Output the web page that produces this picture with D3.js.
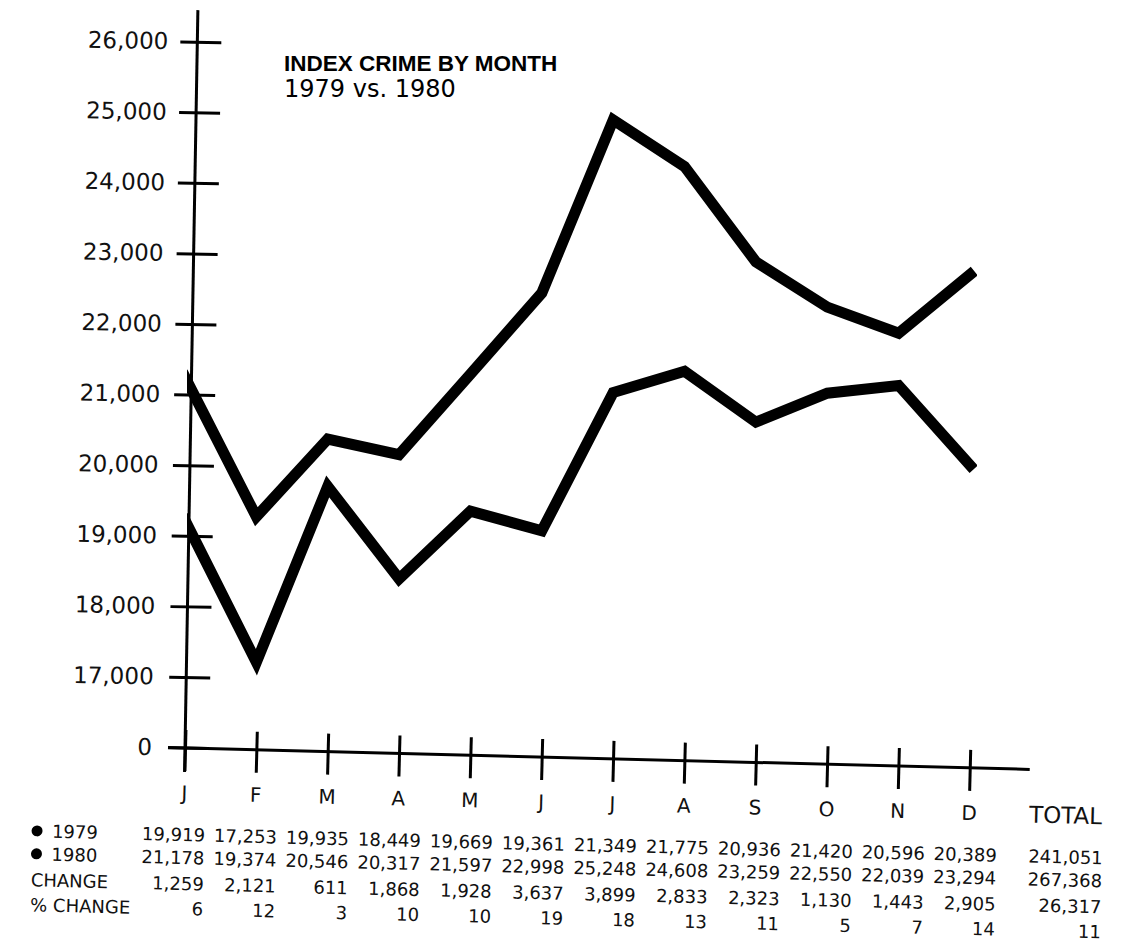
<!DOCTYPE html>
<html>
<head>
<meta charset="utf-8">
<script src="https://cdn.jsdelivr.net/npm/d3@7"></script>
<style>
body { margin: 0; background: #fff; }
svg { display: block; }
.tbl text { font-family: "DejaVu Sans", sans-serif; font-size: 18px; fill: #111; }
</style>
</head>
<body>
<script>
// months on the x axis
var months = ["J", "F", "M", "A", "M", "J", "J", "A", "S", "O", "N", "D"];

// values as plotted
var line1980 = [21250, 19270, 20370, 20150, 21290, 22440, 24890, 24230, 22880, 22240, 21870, 22700];
var line1979 = [19220, 17210, 19700, 18390, 19350, 19070, 21030, 21330, 20610, 21020, 21130, 20000];

// y axis (broken: the bottom tick is labelled 0)
var yTicks = [16000, 17000, 18000, 19000, 20000, 21000, 22000, 23000, 24000, 25000, 26000];
var yLabels = ["0", "17,000", "18,000", "19,000", "20,000", "21,000", "22,000", "23,000", "24,000", "25,000", "26,000"];

// table under the chart
var rowNames = ["1979", "1980", "CHANGE", "% CHANGE"];
var v1979 = [19919, 17253, 19935, 18449, 19669, 19361, 21349, 21775, 20936, 21420, 20596, 20389];
var v1980 = [21178, 19374, 20546, 20317, 21597, 22998, 25248, 24608, 23259, 22550, 22039, 23294];
var change = [1259, 2121, 611, 1868, 1928, 3637, 3899, 2833, 2323, 1130, 1443, 2905];
var pctChange = [6, 12, 3, 10, 10, 19, 18, 13, 11, 5, 7, 14];
var totals = [241051, 267368, 26317, 11];

var width = 1123, height = 942;
var svg = d3.select("body").append("svg")
    .attr("width", width)
    .attr("height", height);

var x = d3.scalePoint()
    .domain(d3.range(12))
    .range([185, 970]);
var y = d3.scaleLinear()
    .domain([16000, 26000])
    .range([747.6, 41.6]);

// title
svg.append("text")
    .attr("x", 284).attr("y", 71)
    .style("font-family", "'Liberation Sans', Arial, sans-serif")
    .style("font-weight", "bold")
    .style("font-size", "22.5px")
    .text("INDEX CRIME BY MONTH");
svg.append("text")
    .attr("x", 284).attr("y", 97)
    .style("font-family", "'DejaVu Sans', sans-serif")
    .style("font-size", "24px")
    .text("1979 vs. 1980");

// y axis, a little tilted like the scan
var yg = svg.append("g")
    .attr("transform", "rotate(1, 185, 748) translate(185,0)");
yg.call(d3.axisLeft(y).tickValues(yTicks).tickFormat(function (d, i) { return yLabels[i]; }));
yg.select(".domain").remove();
yg.selectAll(".tick line")
    .attr("x1", -17).attr("x2", 24)
    .attr("stroke", "#000").attr("stroke-width", 3);
yg.selectAll(".tick text")
    .attr("x", function (d) { return -33 + (d - 16000) / 10000 * 4; })
    .attr("fill", "#111")
    .style("font-family", "'DejaVu Sans', sans-serif")
    .style("font-size", "23px");
yg.append("line")
    .attr("x1", 0).attr("x2", 0)
    .attr("y1", 10).attr("y2", 772)
    .attr("stroke", "#000").attr("stroke-width", 3);

// x axis
var xg = svg.append("g")
    .attr("transform", "rotate(1.45, 185, 748) translate(0,748)");
xg.call(d3.axisBottom(x).tickFormat(function (d) { return months[d]; }));
xg.select(".domain").remove();
xg.selectAll(".tick line")
    .attr("y1", -18).attr("y2", 23)
    .attr("stroke", "#000").attr("stroke-width", 3);
xg.selectAll(".tick text")
    .attr("y", 52).attr("dy", null)
    .attr("fill", "#111")
    .style("font-family", "'DejaVu Sans', sans-serif")
    .style("font-size", "20px");
xg.append("line")
    .attr("x1", 168).attr("x2", 1030)
    .attr("y1", 0).attr("y2", 0)
    .attr("stroke", "#000").attr("stroke-width", 3);
xg.append("text")
    .attr("x", 1067).attr("y", 53)
    .attr("text-anchor", "middle")
    .attr("fill", "#111")
    .style("font-family", "'DejaVu Sans', sans-serif")
    .style("font-size", "23px")
    .text("TOTAL");

// the two lines
svg.append("clipPath").attr("id", "plotclip")
    .append("rect")
    .attr("x", 187).attr("y", 0)
    .attr("width", 977 - 187).attr("height", 760);

var line = d3.line()
    .x(function (d, i) { return x(i); })
    .y(function (d) { return y(d); });

[line1979, line1980].forEach(function (series) {
    svg.append("path")
        .datum(series)
        .attr("clip-path", "url(#plotclip)")
        .attr("d", line)
        .attr("fill", "none")
        .attr("stroke", "#000")
        .attr("stroke-width", 11)
        .attr("stroke-linejoin", "miter")
        .attr("stroke-linecap", "square");
});

// table
var colX = d3.scalePoint().domain(d3.range(12)).range([205, 997]);
var totalX = 1103;
var rowY = [835, 858, 884, 909];
var rows = [v1979, v1980, change, pctChange];
var fmt = d3.format(",");

var tbl = svg.append("g")
    .attr("class", "tbl")
    .attr("transform", "rotate(1.45, 200, 835)");

rowNames.forEach(function (name, r) {
    var ty = rowY[r] + 6.5;
    if (r < 2) {
        tbl.append("circle")
            .attr("cx", 37).attr("cy", rowY[r])
            .attr("r", 5.5)
            .attr("fill", "#000");
        tbl.append("text").attr("x", 52).attr("y", ty).text(name);
    } else {
        tbl.append("text").attr("x", 32).attr("y", ty).text(name);
    }
    tbl.selectAll(".r" + r)
        .data(rows[r])
        .enter().append("text")
        .attr("class", "r" + r)
        .attr("x", function (d, i) { return colX(i); })
        .attr("y", ty)
        .attr("text-anchor", "end")
        .text(function (d) { return fmt(d); });
    tbl.append("text")
        .attr("x", totalX).attr("y", ty)
        .attr("text-anchor", "end")
        .text(fmt(totals[r]));
});
</script>
</body>
</html>
